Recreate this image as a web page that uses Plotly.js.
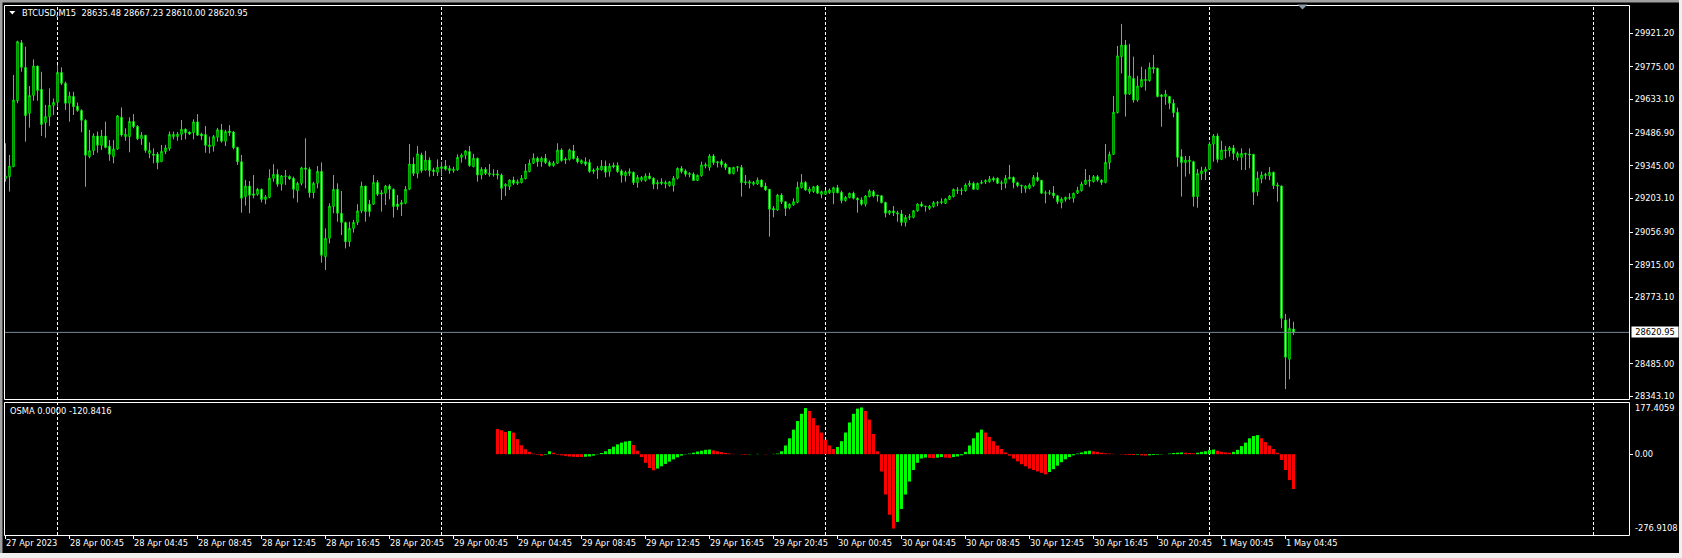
<!DOCTYPE html>
<html><head><meta charset="utf-8">
<script src="https://cdn.plot.ly/plotly-3.0.1.min.js"></script>
<style>html,body{margin:0;padding:0;background:#000;overflow:hidden}#chart{width:1682px;height:558px}</style>
</head><body><div id="chart"></div>
<script>
// ---- DATA (BTCUSD M15, bar 0 = 27 Apr 2023 20:45) ----
const symbolTitle = "BTCUSD,M15\u00a0\u00a028635.48 28667.23 28610.00 28620.95";
const osmaTitle = "OSMA 0.0000 -120.8416";
const lastPrice = 28620.95;

const openP = [29289,29298,29341,29628,29880,29773,29573,29651,29779,29678,29533,29559,29607,29621,29751,29704,29617,29647,29604,29586,
29543,29385,29411,29475,29434,29475,29430,29385,29418,29556,29472,29472,29538,29517,29463,29478,29399,29396,29396,29363,
29407,29420,29472,29472,29482,29504,29492,29489,29536,29483,29481,29428,29431,29469,29501,29452,29496,29492,29425,29363,
29211,29257,29223,29221,29243,29199,29208,29291,29308,29265,29298,29299,29291,29237,29269,29336,29330,29228,29269,29321,
28950,29030,29168,29243,29139,29099,29015,29073,29099,29149,29257,29178,29178,29273,29228,29226,29257,29243,29179,29185,
29182,29243,29353,29312,29392,29327,29370,29327,29317,29341,29344,29324,29324,29327,29382,29391,29407,29341,29378,29305,
29330,29312,29310,29310,29305,29257,29255,29283,29269,29272,29289,29320,29356,29378,29363,29378,29360,29346,29356,29414,
29375,29373,29410,29378,29356,29363,29360,29320,29327,29327,29344,29320,29347,29347,29323,29302,29312,29317,29272,29283,
29281,29301,29291,29266,29275,29266,29259,29259,29291,29334,29323,29312,29309,29281,29302,29344,29338,29388,29363,29365,
29353,29338,29311,29338,29338,29276,29269,29265,29266,29283,29257,29243,29160,29153,29218,29189,29163,29175,29186,29250,
29273,29233,29233,29257,29221,29221,29228,29228,29250,29230,29194,29207,29226,29204,29197,29178,29211,29233,29218,29215,
29186,29139,29149,29141,29136,29099,29121,29121,29149,29179,29170,29160,29168,29182,29185,29182,29199,29211,29237,29237,
29237,29262,29269,29243,29269,29275,29276,29291,29291,29272,29269,29289,29295,29272,29260,29246,29247,29259,29295,29282,
29228,29226,29227,29215,29185,29199,29204,29204,29226,29237,29265,29283,29276,29298,29283,29273,29359,29395,29576,29820,
29870,29657,29725,29631,29689,29715,29715,29773,29769,29653,29646,29647,29617,29578,29385,29359,29363,29363,29211,29310,
29320,29330,29439,29475,29373,29414,29411,29423,29382,29382,29399,29396,29395,29233,29289,29308,29302,29317,29262,29257,
28675,28504,28635.48];
const highP = [29443,29392,29740,29889,29892,29863,29692,29808,29779,29754,29610,29682,29638,29783,29773,29711,29667,29667,29620,29591,
29547,29501,29486,29494,29501,29537,29457,29457,29566,29599,29508,29556,29570,29522,29492,29479,29447,29421,29405,29436,
29436,29494,29494,29492,29544,29508,29494,29547,29570,29489,29518,29472,29479,29510,29527,29501,29522,29496,29428,29392,
29284,29279,29305,29249,29246,29218,29330,29352,29330,29305,29327,29304,29298,29276,29341,29465,29339,29276,29344,29360,
29073,29182,29305,29269,29236,29102,29102,29110,29178,29276,29257,29197,29305,29283,29240,29262,29265,29247,29218,29197,
29257,29440,29382,29431,29402,29410,29382,29337,29373,29363,29370,29346,29341,29395,29399,29414,29431,29397,29381,29339,
29339,29353,29330,29327,29312,29269,29286,29298,29286,29305,29353,29373,29399,29385,29385,29397,29368,29366,29443,29421,
29382,29420,29436,29388,29373,29382,29373,29334,29344,29370,29368,29356,29359,29360,29330,29324,29334,29320,29305,29301,
29312,29315,29295,29283,29291,29281,29279,29301,29338,29344,29330,29317,29317,29307,29363,29359,29396,29396,29365,29373,
29359,29338,29341,29344,29349,29305,29283,29279,29294,29286,29272,29243,29170,29223,29226,29192,29182,29204,29276,29309,
29279,29254,29257,29262,29237,29240,29247,29254,29262,29237,29214,29228,29233,29208,29208,29218,29243,29240,29218,29218,
29189,29153,29170,29150,29153,29131,29136,29153,29182,29189,29170,29175,29192,29192,29204,29204,29218,29246,29252,29250,
29269,29281,29276,29272,29283,29286,29301,29298,29295,29281,29305,29349,29298,29276,29263,29260,29269,29305,29317,29283,
29237,29240,29257,29218,29208,29211,29226,29228,29254,29276,29331,29305,29305,29305,29286,29440,29407,29649,29866,29962,
29892,29875,29820,29736,29776,29765,29794,29827,29772,29657,29675,29649,29634,29598,29417,29388,29388,29367,29331,29341,
29341,29450,29483,29486,29454,29431,29431,29436,29407,29421,29402,29421,29396,29320,29320,29315,29340,29320,29272,29260,
28701,28682,28667.23];
const lowP = [29276,29233,29341,29617,29754,29450,29511,29628,29628,29475,29467,29518,29566,29602,29696,29588,29537,29566,29580,29491,
29254,29378,29392,29402,29414,29421,29367,29356,29414,29472,29454,29404,29508,29457,29436,29402,29378,29356,29330,29363,
29396,29411,29460,29454,29457,29460,29479,29460,29475,29457,29402,29399,29407,29450,29446,29431,29475,29417,29349,29141,
29172,29139,29204,29215,29186,29178,29204,29276,29254,29237,29262,29284,29204,29186,29260,29247,29207,29204,29247,28924,
28892,29008,29139,29102,29044,28986,28994,29055,29088,29139,29102,29124,29175,29214,29146,29175,29199,29120,29153,29127,
29178,29240,29301,29291,29315,29324,29298,29301,29301,29301,29324,29310,29315,29324,29359,29373,29341,29339,29276,29286,
29305,29298,29298,29286,29197,29214,29240,29262,29262,29269,29286,29317,29353,29341,29341,29353,29341,29341,29353,29363,
29353,29368,29373,29356,29352,29344,29315,29310,29288,29324,29295,29298,29334,29315,29272,29276,29301,29262,29250,29276,
29276,29286,29244,29243,29262,29247,29254,29233,29286,29312,29298,29295,29281,29279,29298,29334,29324,29349,29338,29338,
29327,29308,29308,29320,29211,29262,29247,29259,29262,29252,29237,29037,29121,29150,29179,29127,29156,29172,29182,29247,
29237,29223,29228,29223,29204,29218,29223,29178,29226,29182,29189,29204,29199,29141,29172,29168,29208,29208,29189,29182,
29121,29131,29127,29102,29084,29081,29110,29117,29146,29165,29146,29153,29163,29170,29178,29179,29197,29208,29223,29218,
29233,29254,29240,29240,29265,29266,29272,29276,29266,29240,29247,29286,29247,29252,29226,29228,29243,29254,29276,29223,
29182,29218,29204,29179,29160,29189,29197,29185,29223,29233,29262,29254,29273,29276,29262,29269,29330,29392,29573,29747,
29559,29653,29620,29624,29686,29672,29711,29747,29643,29515,29610,29591,29556,29341,29211,29298,29310,29168,29163,29283,
29283,29327,29363,29359,29370,29378,29385,29370,29367,29327,29327,29334,29175,29214,29269,29286,29283,29244,29189,28639,
28374,28417,28610.00];
const closeP = [29301,29344,29631,29885,29773,29563,29651,29779,29672,29525,29559,29608,29621,29751,29704,29617,29649,29602,29586,29543,
29391,29411,29475,29434,29475,29425,29395,29418,29562,29479,29482,29538,29515,29463,29478,29412,29412,29391,29359,29408,
29423,29482,29482,29483,29504,29489,29483,29536,29478,29475,29434,29436,29472,29502,29452,29494,29489,29424,29363,29204,
29257,29217,29217,29243,29199,29210,29291,29308,29265,29301,29301,29289,29243,29269,29336,29330,29228,29269,29321,28956,
29030,29170,29243,29139,29099,29015,29073,29099,29149,29257,29146,29146,29273,29221,29223,29257,29243,29168,29168,29178,
29243,29353,29312,29397,29324,29370,29324,29320,29339,29334,29330,29334,29330,29382,29392,29410,29346,29378,29305,29330,
29312,29308,29307,29305,29247,29265,29283,29269,29276,29291,29323,29356,29378,29363,29378,29359,29346,29357,29414,29368,
29370,29414,29376,29363,29368,29352,29320,29327,29334,29344,29317,29344,29341,29320,29304,29317,29320,29272,29295,29295,
29301,29289,29265,29272,29269,29273,29276,29291,29334,29320,29308,29308,29281,29304,29349,29350,29388,29359,29359,29350,
29338,29311,29338,29341,29272,29272,29276,29273,29283,29254,29240,29156,29153,29218,29189,29160,29178,29189,29252,29273,
29240,29244,29254,29226,29233,29236,29240,29250,29228,29194,29208,29226,29204,29197,29178,29214,29236,29214,29214,29185,
29139,29149,29141,29136,29099,29121,29124,29150,29179,29170,29168,29170,29185,29185,29189,29201,29214,29243,29240,29240,
29262,29269,29243,29269,29273,29281,29288,29283,29269,29269,29291,29295,29272,29259,29257,29257,29262,29295,29281,29226,
29226,29228,29215,29189,29201,29208,29208,29226,29239,29266,29283,29279,29298,29283,29273,29360,29395,29578,29823,29870,
29656,29736,29631,29692,29721,29721,29773,29767,29646,29646,29657,29617,29576,29382,29359,29370,29370,29211,29312,29323,
29331,29440,29475,29373,29414,29411,29424,29399,29399,29399,29396,29392,29230,29291,29305,29304,29317,29259,29257,28682,
28513,28639,28620.95];

// OsMA histogram, first value at bar 123
const osmaStartBar = 123;
const osmaValues = [87,83,77,80,75,52,31,17,8,2,-2,-5,-2,10,5,-2,
-4,-6,-8,-9,-10,-10,-9,-8,-5,-1,4,
10,18,26,34,40,44,46,
32,12,
-10,-30,-48,-56,
-50,-42,-34,-26,-18,-11,-5,-1,
2,5,9,12,15,16,13,
10,7,4,2,1,
0,-1,-2,-1,0,1,0,-1,0,1,2,
10,30,55,85,115,140,160,
150,125,100,75,50,30,18,
25,45,75,110,140,158,162,
150,120,70,
10,-60,-140,-210,-258,
-235,-190,-140,-95,-55,-30,-15,
-12,-13,-14,-12,-10,-12,-13,-10,-8,-4,
8,30,55,75,85,
75,60,45,30,18,6,
-5,-15,-25,-35,-42,-50,-55,-60,-65,-70,
-62,-52,-40,-28,-18,-10,-4,
2,6,10,12,10,8,5,3,2,1,0,-1,-2,-3,-3,-2,-4,-5,-4,-3,-2,-1,0,2,4,5,6,5,4,3,5,8,10,14,16,12,8,6,5,8,15,28,
40,55,63,66,55,42,30,18,5,-20,-55,-90,-120.8416];

const priceTickVals = [29921.20,29775.00,29633.10,29486.90,29345.00,29203.10,29056.90,28915.00,28773.10,28485.00,28343.10];
const osmaMax = 177.4059, osmaMin = -276.9108;
const xTickBars = [0,16,32,48,64,80,96,112,128,144,160,176,192,208,224,240,256,272,288,304,320];
const xTickLabels = ["27 Apr 2023","28 Apr 00:45","28 Apr 04:45","28 Apr 08:45","28 Apr 12:45","28 Apr 16:45","28 Apr 20:45",
"29 Apr 00:45","29 Apr 04:45","29 Apr 08:45","29 Apr 12:45","29 Apr 16:45","29 Apr 20:45",
"30 Apr 00:45","30 Apr 04:45","30 Apr 08:45","30 Apr 12:45","30 Apr 16:45","30 Apr 20:45","1 May 00:45","1 May 04:45"];
const dayGridBars = [13,109,205,301,397];

// ---- LAYOUT HELPERS ----
const W = 1682, H = 558, L = 4, R = 1629, T = 5, B = 535;
const px2x = px => (px - L) / (R - L);
const py2y = py => (B - py) / (B - T);
const FONT = {family: "DejaVu Sans, Tahoma, sans-serif", size: 8.3, color: "#ffffff"};

const bars = openP.map((_, i) => i);
const osmaX = osmaValues.map((_, i) => osmaStartBar + i);
const osmaColors = osmaValues.map((v, i) => (i > 0 && v > osmaValues[i - 1]) ? "#00ff00" : "#ff0000");

const traces = [
  {type: "candlestick", x: bars, open: openP, high: highP, low: lowP, close: closeP,
   xaxis: "x", yaxis: "y", whiskerwidth: 0,
   increasing: {line: {color: "#00ff00", width: 1}, fillcolor: "#000000"},
   decreasing: {line: {color: "#00ff00", width: 1}, fillcolor: "#ffffff"},
   hoverinfo: "skip", showlegend: false},
  {type: "bar", x: osmaX, y: osmaValues, xaxis: "x", yaxis: "y2", width: 0.75,
   marker: {color: osmaColors, line: {width: 0}}, hoverinfo: "skip", showlegend: false}
];

const shapes = [];
dayGridBars.forEach(b => shapes.push({type: "line", xref: "x", yref: "paper", x0: b, x1: b, y0: 0, y1: 1,
  line: {color: "#ffffff", width: 1, dash: "3px,2px"}, layer: "below"}));
shapes.push({type: "line", xref: "paper", yref: "y", x0: 0, x1: 1, y0: lastPrice, y1: lastPrice,
  line: {color: "#778899", width: 1}, layer: "above"});
// panel frames
shapes.push({type: "rect", xref: "paper", yref: "paper", x0: px2x(4.5), x1: px2x(1629.5), y0: py2y(399.5), y1: py2y(5.5),
  line: {color: "#ffffff", width: 1}, fillcolor: "rgba(0,0,0,0)"});
shapes.push({type: "rect", xref: "paper", yref: "paper", x0: px2x(4.5), x1: px2x(1629.5), y0: py2y(535.5), y1: py2y(402.5),
  line: {color: "#ffffff", width: 1}, fillcolor: "rgba(0,0,0,0)"});
// outer window edges
shapes.push({type: "rect", xref: "paper", yref: "paper", x0: px2x(0), x1: px2x(1682), y0: py2y(2.5), y1: py2y(0),
  line: {width: 0}, fillcolor: "#a0a0a0"});
shapes.push({type: "rect", xref: "paper", yref: "paper", x0: px2x(0), x1: px2x(2.5), y0: py2y(558), y1: py2y(0),
  line: {width: 0}, fillcolor: "#a0a0a0"});
shapes.push({type: "rect", xref: "paper", yref: "paper", x0: px2x(0), x1: px2x(1682), y0: py2y(558), y1: py2y(553),
  line: {width: 0}, fillcolor: "#f0f0f0"});
shapes.push({type: "rect", xref: "paper", yref: "paper", x0: px2x(1679), x1: px2x(1682), y0: py2y(558), y1: py2y(0),
  line: {width: 0}, fillcolor: "#f0f0f0"});
// symbol menu triangle
shapes.push({type: "path", xref: "paper", yref: "paper",
  path: `M ${px2x(9.3)} ${py2y(11)} L ${px2x(15.3)} ${py2y(11)} L ${px2x(12.3)} ${py2y(14.6)} Z`,
  fillcolor: "#ffffff", line: {width: 0}});
// chart shift marker
shapes.push({type: "path", xref: "paper", yref: "paper",
  path: `M ${px2x(1297.5)} ${py2y(4.5)} L ${px2x(1307.5)} ${py2y(4.5)} L ${px2x(1302.5)} ${py2y(9.5)} Z`,
  fillcolor: "#8a99a8", line: {width: 0}});

const annotations = [
  {xref: "paper", yref: "paper", x: px2x(20.5), y: py2y(12.7), xanchor: "left", yanchor: "middle",
   text: symbolTitle, showarrow: false, font: FONT, borderpad: 0},
  {xref: "paper", yref: "paper", x: px2x(8.5), y: py2y(410.7), xanchor: "left", yanchor: "middle",
   text: osmaTitle, showarrow: false, font: FONT, borderpad: 0},
  {xref: "paper", yref: "y", x: px2x(1631), y: lastPrice, xanchor: "left", yanchor: "middle",
   text: lastPrice.toFixed(2), showarrow: false, font: Object.assign({}, FONT, {color: "#000000"}),
   bgcolor: "#ffffff", width: 44, height: 8, borderpad: 1, align: "center"},
  {xref: "paper", yref: "paper", x: px2x(1634), y: py2y(407.7), xanchor: "left", yanchor: "middle",
   text: osmaMax.toFixed(4), showarrow: false, font: FONT, borderpad: 0},
  {xref: "paper", yref: "paper", x: px2x(1634), y: py2y(528.3), xanchor: "left", yanchor: "middle",
   text: osmaMin.toFixed(4), showarrow: false, font: FONT, borderpad: 0}
];

const pxPerPrice = 4.347;
const layout = {
  width: W, height: H, margin: {l: L, r: W - R, t: T, b: H - B, pad: 0},
  paper_bgcolor: "#000000", plot_bgcolor: "#000000", showlegend: false, hovermode: false,
  boxgap: 0.5,
  xaxis: {type: "linear", range: [-0.375, 405.875], anchor: "y2", rangeslider: {visible: false},
    tickmode: "array", tickvals: xTickBars, ticktext: xTickLabels, ticks: "outside", ticklen: 3,
    tickcolor: "#ffffff", tickfont: FONT, ticklabelposition: "outside right",
    showgrid: false, zeroline: false, showline: false, fixedrange: true},
  yaxis: {domain: [py2y(399), 1], range: [28343.10 - 2.7 * pxPerPrice, 29921.20 + 28.3 * pxPerPrice],
    side: "right", anchor: "x", tickmode: "array", tickvals: priceTickVals,
    ticktext: priceTickVals.map(v => v.toFixed(2)), ticks: "outside", ticklen: 3, tickcolor: "#ffffff",
    tickfont: FONT, showgrid: false, zeroline: false, showline: false, fixedrange: true},
  yaxis2: {domain: [0, py2y(402)], range: [-280.4, 180.9], side: "right", anchor: "x",
    tickmode: "array", tickvals: [0], ticktext: ["0.00"], ticks: "outside", ticklen: 3, tickcolor: "#ffffff",
    tickfont: FONT, showgrid: false, zeroline: false, showline: false, fixedrange: true},
  shapes: shapes, annotations: annotations
};

Plotly.newPlot("chart", traces, layout, {staticPlot: true, displayModeBar: false});
</script></body></html>
